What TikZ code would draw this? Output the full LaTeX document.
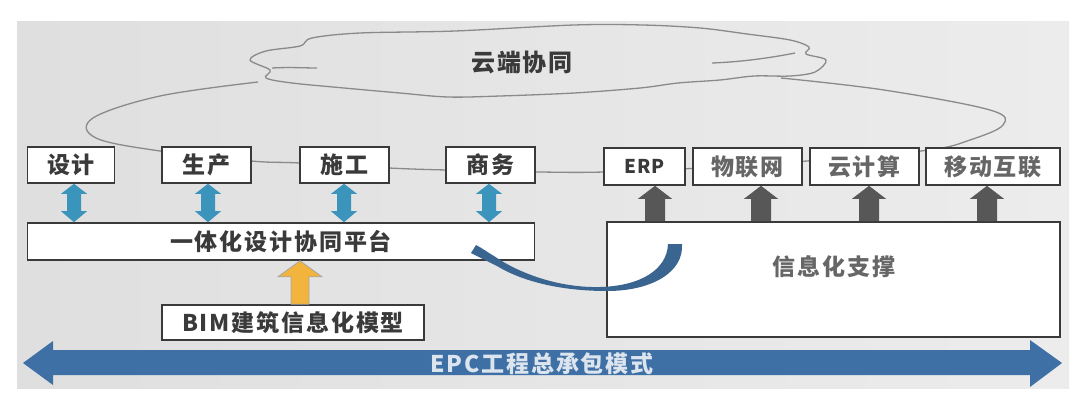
\documentclass[tikz,border=0pt]{standalone}
\usepackage{fontspec}
\newfontfamily\cjk{Noto Sans CJK SC}[LetterSpace=8]
\newfontfamily\cjkerp{Noto Sans CJK SC}[LetterSpace=6]
\usetikzlibrary{calc}
\definecolor{panelL}{HTML}{DFDFDF}
\definecolor{panelR}{HTML}{ECECEC}
\definecolor{tealA}{HTML}{3A94BC}
\definecolor{grayA}{HTML}{575757}
\definecolor{goldA}{HTML}{F2B43C}
\definecolor{epcA}{HTML}{3E70A6}
\definecolor{curveA}{HTML}{3B6591}
\definecolor{txtA}{HTML}{3A3A3A}
\definecolor{lineA}{HTML}{3A3A3A}
\definecolor{cloudA}{HTML}{8A8A8A}
\definecolor{epcT}{HTML}{DCE4EE}

\newcommand\tealdbl[3]{%
  \fill[tealA] let \p1=(#2.south), \p2=(#3.north) in
    (#1pt,\y1) -- (#1pt+13pt,\y1-10pt) -- (#1pt+7pt,\y1-10pt) -- (#1pt+7pt,\y2+11pt)
    -- (#1pt+13pt,\y2+11pt) -- (#1pt,\y2) -- (#1pt-13pt,\y2+11pt) -- (#1pt-7pt,\y2+11pt)
    -- (#1pt-7pt,\y1-10pt) -- (#1pt-13pt,\y1-10pt) -- cycle;}
\newcommand\grayup[3]{%
  \fill[grayA] let \p1=(#2.south), \p2=(#3.north) in
    (#1pt,\y1) -- (#1pt+17pt,\y1-13pt) -- (#1pt+10pt,\y1-13pt) -- (#1pt+10pt,\y2)
    -- (#1pt-10pt,\y2) -- (#1pt-10pt,\y1-13pt) -- (#1pt-17pt,\y1-13pt) -- cycle;}
\newcommand\goldup[3]{%
  \filldraw[fill=goldA, draw=gray!70, line width=0.8pt] let \p1=(#2.south), \p2=(#3.north) in
    (#1pt,\y1) -- (#1pt+22pt,\y1-16pt) -- (#1pt+9pt,\y1-16pt) -- (#1pt+9pt,\y2)
    -- (#1pt-9pt,\y2) -- (#1pt-9pt,\y1-16pt) -- (#1pt-22pt,\y1-16pt) -- cycle;}

\begin{document}
\begin{tikzpicture}[x=1pt,y=-1pt,
  box/.style={draw=lineA, line width=1.6pt, fill=white, inner sep=0pt, text=txtA,
              font=\cjk\bfseries\fontsize{23}{23}\selectfont},
  cloudline/.style={draw=cloudA, line width=1.3pt},
  lbl/.style={inner sep=0pt, text=txtA, font=\cjk\bfseries\fontsize{23}{23}\selectfont}]
\useasboundingbox (0,0) rectangle (1080,400);
\fill[white] (0,0) rectangle (1080,400);
\shade[left color=panelL, right color=panelR] (17,21) rectangle (1069,388);

% big cloud (behind boxes)
\draw[cloudline] plot[smooth, tension=0.6] coordinates {
 (258,82) (160,96) (93,118) (96,138) (160,151) (251,161) (300,163) (389,168)
 (446,170) (540,172) (604,172) (700,168) (820,160) (929,150) (970,140)
 (1003,125) (990,110) (884,90) (781,78)};
% small cloud
\draw[cloudline] plot[smooth cycle, tension=0.55] coordinates {
 (250,60) (266,51) (300,46) (312,38) (360,33) (455,31) (574,25) (643,25)
 (700,28) (747,34) (790,40) (809,47) (806,54) (826,60) (815,72) (790,76)
 (754,76) (720,80) (678,83) (640,88) (574,93) (500,96) (448,97) (400,93)
 (344,88) (292,83) (266,78) (270,70)};
\draw[cloudline] (272,68) .. controls (290,67) and (305,68) .. (317,68);
\draw[cloudline] (712,63) .. controls (740,62) and (770,58) .. (795,53);
\node[lbl, font=\cjk\bfseries\fontsize{24}{24}\selectfont] (title) at (522,62) {云端协同};

% top boxes
\node[box, minimum width=87, minimum height=36] (sj) at (71,165) {设计};
\node[box, minimum width=89, minimum height=36] (sc) at (206.5,165) {生产};
\node[box, minimum width=89, minimum height=36] (sg) at (344.5,165) {施工};
\node[box, minimum width=89, minimum height=36] (sw) at (490.5,165) {商务};
\node[box, minimum width=81, minimum height=37, font=\cjkerp\bfseries\fontsize{19}{19}\selectfont] (erp) at (644.5,166.5) {ERP};
\node[box, minimum width=109, minimum height=37, text=black!60] (wlw) at (747.5,166.5) {物联网};
\node[box, minimum width=109, minimum height=37, text=black!60] (yjs) at (864.5,166.5) {云计算};
\node[box, minimum width=134, minimum height=37, text=black!60] (ydhl) at (993,166.5) {移动互联};

% platform, BIM, info
\node[box, minimum width=507, minimum height=37] (plat) at (281,241.5) {一体化设计协同平台};
\node[box, minimum width=262, minimum height=35] (bim) at (293,322.5) {BIM建筑信息化模型};
\node[box, minimum width=453, minimum height=115] (info) at (833.5,279.5) {};
\node[lbl, text=black!60] (infotxt) at (834,267) {信息化支撑};

% arrows
\tealdbl{74}{sj}{plat}
\tealdbl{208}{sc}{plat}
\tealdbl{344}{sg}{plat}
\tealdbl{489}{sw}{plat}
\grayup{655}{erp}{info}
\grayup{761}{wlw}{info}
\grayup{869}{yjs}{info}
\grayup{987}{ydhl}{info}
\goldup{300}{plat}{bim}

% curved link between info and platform
\fill[curveA] (682,244) .. controls (684,272) and (652,291) .. (607,291)
  .. controls (565,291) and (525,283) .. (497,266) -- (471,253) -- (476,245)
  .. controls (482,248) and (487,252) .. (494,256)
  .. controls (520,274) and (560,288) .. (600,287)
  .. controls (640,286) and (667,270) .. (668,244) -- cycle;

% EPC double arrow
\coordinate (epcL) at (23,363);
\coordinate (epcR) at (1062,363);
\fill[epcA] let \p1=(epcL), \p2=(epcR) in
  (\p1) -- (\x1+30pt,\y1+22pt) -- (\x1+30pt,\y1+13pt) -- (\x2-32pt,\y1+13pt)
  -- (\x2-32pt,\y1+23pt) -- (\p2) -- (\x2-32pt,\y2-24pt) -- (\x2-32pt,\y2-12pt)
  -- (\x1+30pt,\y2-12pt) -- (\x1+30pt,\y1-22pt) -- cycle;
\node[lbl, text=epcT] (epc) at (542,364) {EPC工程总承包模式};
\end{tikzpicture}
\end{document}
